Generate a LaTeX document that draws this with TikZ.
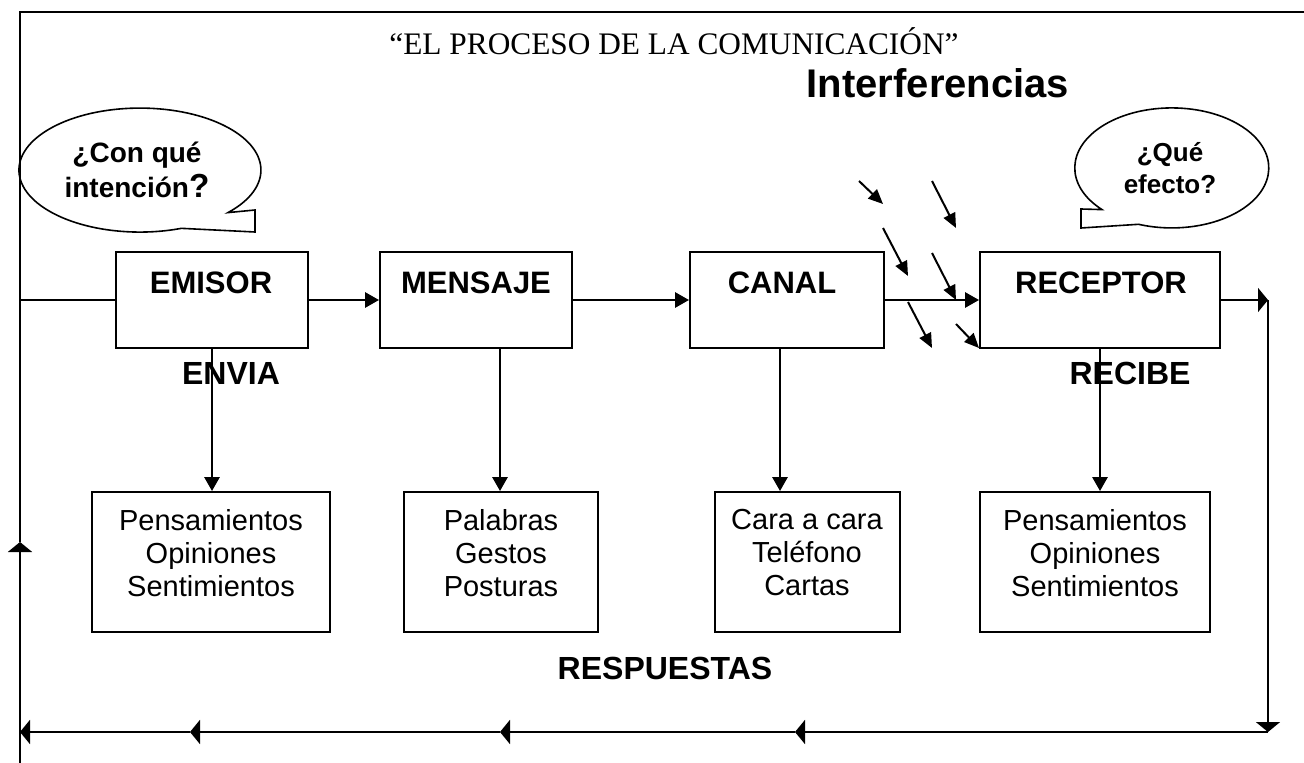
\documentclass[tikz,border=0pt]{standalone}
\usepackage{fontspec}
\setmainfont{Liberation Sans}
\newfontfamily\titlefont{Liberation Serif}
\usetikzlibrary{arrows.meta}
\begin{document}
\begin{tikzpicture}[x=0.75pt,y=0.75pt,line width=1.5pt,
  boxshape/.style 2 args={draw,line width=1.5pt,minimum width=#1*0.75pt,minimum height=#2*0.75pt,inner sep=0pt},
  toplabel/.style={font=\bfseries\fontsize{23.25}{26}\selectfont,inner sep=0pt},
  biglabel/.style={font=\bfseries\fontsize{24}{28}\selectfont,inner sep=0pt},
  boxtext/.style={font=\fontsize{21.75}{24.75}\selectfont,align=center,inner sep=0pt,anchor=north},
  arr/.style={-{Triangle[length=10.5pt,width=11.5pt]}},
  larr/.style={-{Triangle[length=7.5pt,width=18pt]}},
  iarr/.style={-{Triangle[length=11pt,width=9.5pt]}}]
\useasboundingbox (0,0) rectangle (1304,-763);
% frame
\coordinate (fbl) at (20,-763);
\coordinate (fup) at (20,-542);
\coordinate (ftl) at (20,-12);
\coordinate (ftr) at (1304,-12);
\draw[larr] (fbl) -- (fup);
\draw (fup) -- (ftl) -- (ftr);
% title
\node[font=\titlefont\fontsize{23.5}{28}\selectfont,anchor=base,inner sep=0pt] (title) at (674,-55) {“EL PROCESO DE LA COMUNICACIÓN”};
% callouts
\draw[line width=1.2pt] (255,-210) -- (228,-212.6) arc[start angle=-43.3,end angle=290,x radius=90.75pt,y radius=46.5pt] -- (255,-232) -- cycle;
\node[font=\bfseries\fontsize{21}{26}\selectfont,align=center,inner sep=0pt] (q1) at (137,-170) {¿Con qué\\intención{\fontsize{25}{26}\selectfont?}};
\draw[line width=1.2pt] (1081,-228) -- (1081,-209) -- (1102,-209.6) arc[start angle=224,end angle=-110,x radius=72.75pt,y radius=45pt] -- cycle;
\node[font=\bfseries\fontsize{19.5}{24}\selectfont,align=center,inner sep=0pt] (q2) at (1170,-168) {¿Qué\\efecto?};
% interferencias
\node[font=\bfseries\fontsize{30}{34}\selectfont,anchor=base,inner sep=0pt] (interf) at (938,-98) {Interferencias};
\coordinate (i1a) at (859,-181); \coordinate (i1b) at (883,-204);
\coordinate (i2a) at (932,-181); \coordinate (i2b) at (956,-228);
\coordinate (i3a) at (883,-228); \coordinate (i3b) at (908,-276);
\coordinate (i4a) at (932,-253); \coordinate (i4b) at (956,-300);
\coordinate (i5a) at (908,-302); \coordinate (i5b) at (932,-348);
\coordinate (i6a) at (956,-324); \coordinate (i6b) at (979,-348);
\foreach \k in {1,...,6} {\draw[iarr] (i\k a) -- (i\k b);}
% top boxes
\node[boxshape={192}{96}] (emisor) at (212,-300) {};
\node[boxshape={192}{96}] (mensaje) at (476,-300) {};
\node[boxshape={194}{96}] (canal) at (787,-300) {};
\node[boxshape={240}{96}] (receptor) at (1100,-300) {};
\node[toplabel] (lemisor) at (211,-283) {EMISOR};
\node[toplabel] (lmensaje) at (476,-283) {MENSAJE};
\node[toplabel] (lcanal) at (782,-283) {CANAL};
\node[toplabel] (lreceptor) at (1101,-283) {RECEPTOR};
\node[biglabel] (envia) at (231,-373) {ENVIA};
\node[biglabel] (recibe) at (1130,-373) {RECIBE};
\node[biglabel] (resp) at (665,-668) {RESPUESTAS};
% bottom boxes
\node[boxshape={238}{140}] (b1) at (211,-562) {};
\node[boxshape={194}{140}] (b2) at (501,-562) {};
\node[boxshape={185}{140}] (b3) at (807,-562) {};
\node[boxshape={230}{140}] (b4) at (1095,-562) {};
\node[boxtext] (t1) at ([yshift=-12.75pt]b1.north) {Pensamientos\\Opiniones\\Sentimientos};
\node[boxtext] (t2) at ([yshift=-12.75pt]b2.north) {Palabras\\Gestos\\Posturas};
\node[boxtext] (t3) at ([yshift=-12.75pt]b3.north) {Cara a cara\\Teléfono\\Cartas};
\node[boxtext] (t4) at ([yshift=-12.75pt]b4.north) {Pensamientos\\Opiniones\\Sentimientos};
% horizontal connectors
\draw (ftl |- emisor.west) -- (emisor.west);
\draw[arr] (emisor.east) -- (mensaje.west);
\draw[arr] (mensaje.east) -- (canal.west);
\draw[arr] (canal.east) -- (receptor.west);
% vertical connectors
\draw[arr] (emisor.south -| 212,0) -- (b1.north -| 212,0);
\draw[arr] (mensaje.south -| 500,0) -- (b2.north -| 500,0);
\draw[arr] (canal.south -| 780,0) -- (b3.north -| 780,0);
\draw[arr] (receptor.south -| 1100,0) -- (b4.north -| 1100,0);
% feedback loop
\coordinate (rt) at (1268,-300);
\coordinate (rb) at (1268,-732);
\coordinate (m1) at (795,-732);
\coordinate (m2) at (500,-732);
\coordinate (m3) at (190,-732);
\coordinate (m4) at (20,-732);
\draw[larr] (receptor.east) -- (rt);
\draw[larr] (rt) -- (rb);
\draw[larr] (rb) -- (m1);
\draw[larr] (m1) -- (m2);
\draw[larr] (m2) -- (m3);
\draw[larr] (m3) -- (m4);
\end{tikzpicture}
\end{document}
